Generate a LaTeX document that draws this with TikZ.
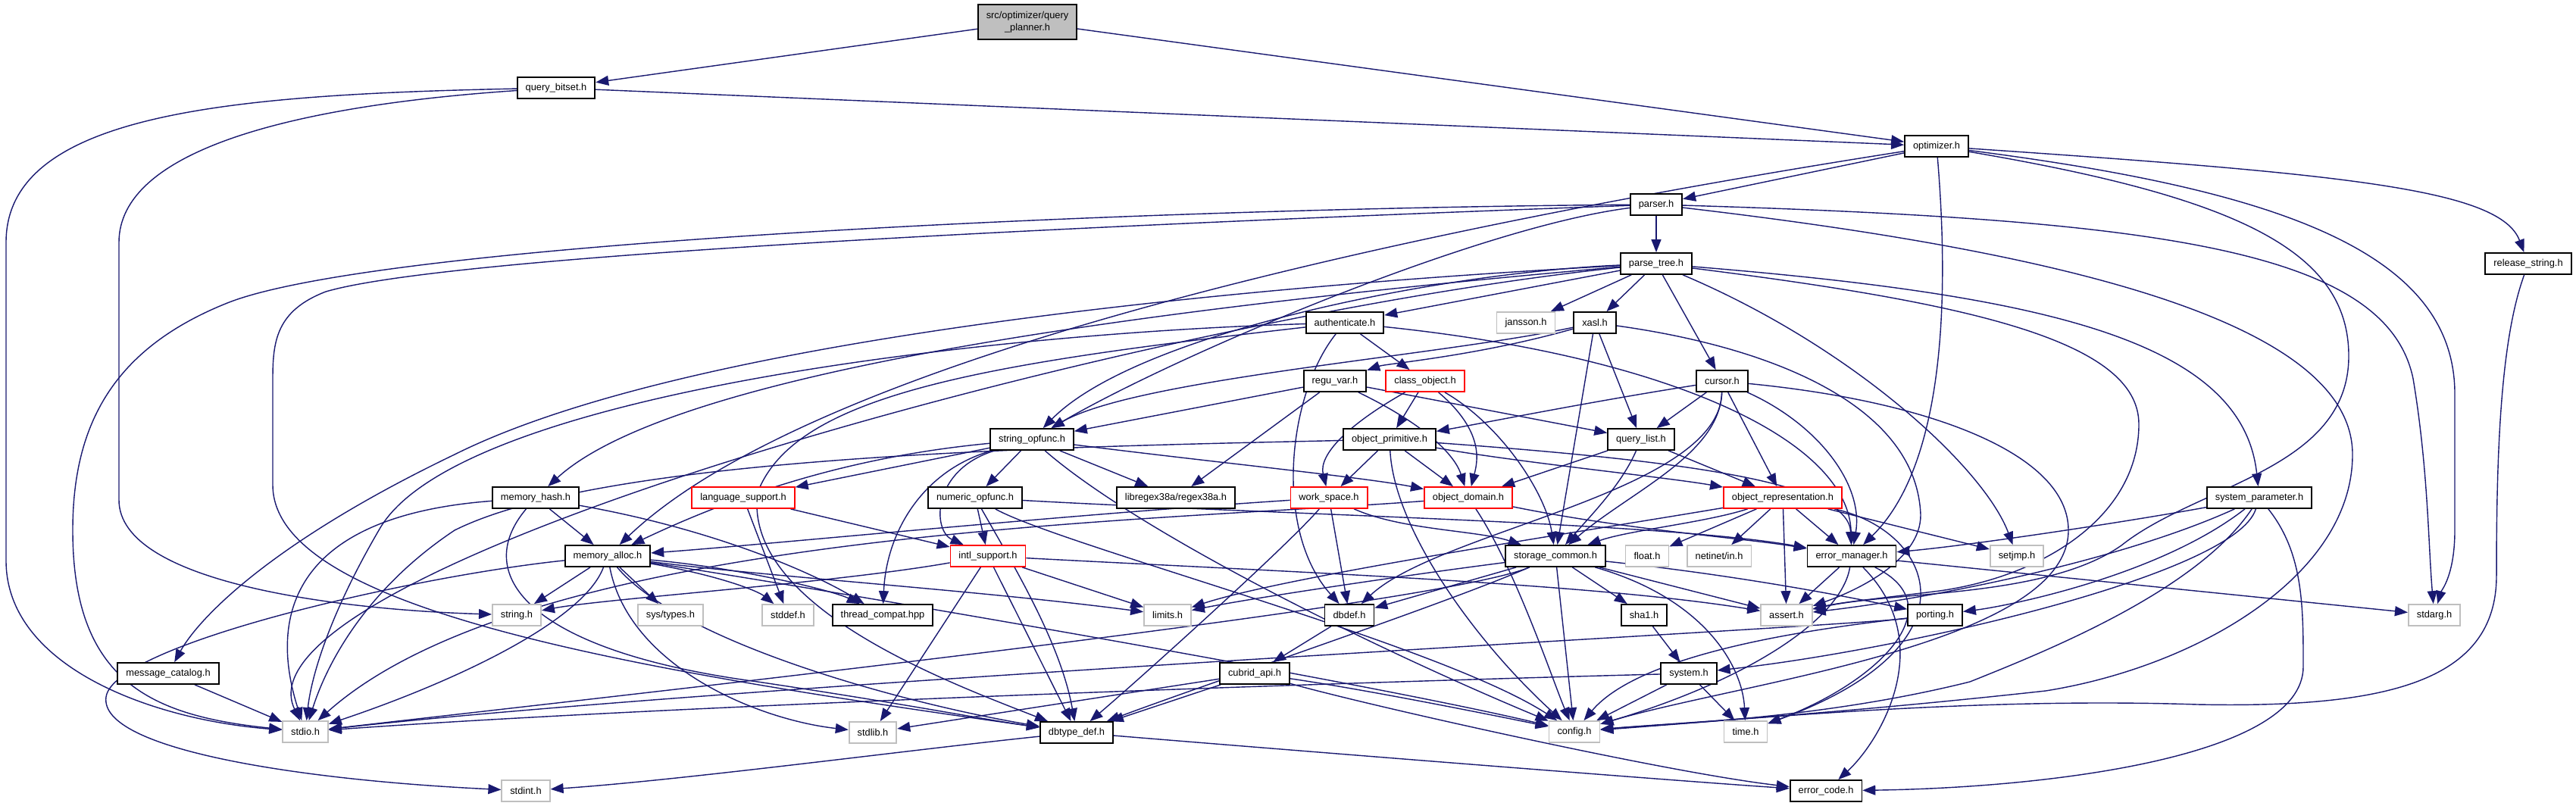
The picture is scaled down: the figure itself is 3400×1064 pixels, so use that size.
\documentclass[tikz,border=0pt]{standalone}
\usepackage{fontspec}
\setmainfont{Liberation Sans}
\usetikzlibrary{arrows.meta}
\definecolor{edgeblue}{HTML}{191970}
\definecolor{extgray}{HTML}{BFBFBF}
\pgfdeclarelayer{edges}
\pgfsetlayers{edges,main}

\begin{document}
\begin{tikzpicture}[
    x=0.01cm, y=-0.01cm,
    every node/.style={font=\fontsize{3.65}{4.6}\selectfont},
    filebox/.style={
        draw=black,
        line width=0.5pt,
        fill=white,
        inner xsep=1.1mm,
        inner ysep=0pt,
        minimum height=2.8mm
    },
    redbox/.style={filebox, draw=red},
    sysbox/.style={filebox, draw=extgray},
    rootbox/.style={filebox, fill=extgray, align=center, minimum height=4.6mm},
    dep/.style={draw=edgeblue, line width=0.4pt, -{Triangle[length=1.7mm,width=1.3mm]}}
]

\useasboundingbox (0,0) rectangle (3400,1064);

\node[rootbox] (root) at (1356,29) {src/optimizer/query\\\_planner.h};
\node[filebox] (qbitset) at (734,116) {query\_bitset.h};
\node[filebox] (optimizer) at (2556,193) {optimizer.h};
\node[filebox] (parser) at (2186,270) {parser.h};
\node[filebox] (parsetree) at (2186,348) {parse\_tree.h};
\node[filebox] (releasestr) at (3337,348) {release\_string.h};
\node[filebox] (authenticate) at (1775,426) {authenticate.h};
\node[sysbox] (jansson) at (2014,426) {jansson.h};
\node[filebox] (xasl) at (2105,426) {xasl.h};
\node[filebox] (reguvar) at (1762,503) {regu\_var.h};
\node[redbox] (classobj) at (1881,503) {class\_object.h};
\node[filebox] (cursor) at (2273,503) {cursor.h};
\node[filebox] (stropfunc) at (1362,580) {string\_opfunc.h};
\node[filebox] (objprim) at (1834,580) {object\_primitive.h};
\node[filebox] (querylist) at (2166,580) {query\_list.h};
\node[filebox] (memhash) at (707,657) {memory\_hash.h};
\node[redbox] (langsupport) at (981,657) {language\_support.h};
\node[filebox] (numopfunc) at (1287,657) {numeric\_opfunc.h};
\node[filebox] (libregex) at (1552,657) {libregex38a/regex38a.h};
\node[redbox] (workspace) at (1754,657) {work\_space.h};
\node[redbox] (objdomain) at (1938,657) {object\_domain.h};
\node[redbox] (objrepr) at (2353,657) {object\_representation.h};
\node[filebox] (sysparam) at (2982,657) {system\_parameter.h};
\node[filebox] (memalloc) at (802,734) {memory\_alloc.h};
\node[redbox] (intlsupport) at (1304,734) {intl\_support.h};
\node[filebox] (storagecommon) at (2053,734) {storage\_common.h};
\node[sysbox] (floath) at (2174,734) {float.h};
\node[sysbox] (netinet) at (2269,734) {netinet/in.h};
\node[filebox] (errmgr) at (2444,734) {error\_manager.h};
\node[sysbox] (setjmp) at (2662,734) {setjmp.h};
\node[sysbox] (stringh) at (682,812) {string.h};
\node[sysbox] (systypes) at (885,812) {sys/types.h};
\node[sysbox] (stddefh) at (1040,812) {stddef.h};
\node[filebox] (threadcompat) at (1165,812) {thread\_compat.hpp};
\node[sysbox] (limitsh) at (1541,812) {limits.h};
\node[filebox] (dbdef) at (1781,812) {dbdef.h};
\node[filebox] (sha1) at (2170,812) {sha1.h};
\node[sysbox] (asserth) at (2358,812) {assert.h};
\node[filebox] (porting) at (2554,812) {porting.h};
\node[sysbox] (stdargh) at (3213,812) {stdarg.h};
\node[filebox] (msgcatalog) at (222,889) {message\_catalog.h};
\node[filebox] (cubridapi) at (1656,889) {cubrid\_api.h};
\node[filebox] (systemh) at (2229,889) {system.h};
\node[sysbox] (stdioh) at (403,966) {stdio.h};
\node[sysbox] (stdlibh) at (1152,967) {stdlib.h};
\node[filebox] (dbtypedef) at (1421,967) {dbtype\_def.h};
\node[sysbox] (configh) at (2078,966) {config.h};
\node[sysbox] (timeh) at (2304,966) {time.h};
\node[sysbox] (stdinth) at (694,1044) {stdint.h};
\node[filebox] (errcode) at (2410,1044) {error\_code.h};

\begin{pgfonlayer}{edges}
\draw[dep] (root) -- (qbitset);
\draw[dep] (root) -- (optimizer);

\draw[dep] (qbitset) -- (optimizer);
\draw[dep] (qbitset) .. controls (300,125) and (8,150) .. (8,320) -- (8,740) .. controls (8,880) and (200,950) .. (stdioh);
\draw[dep] (qbitset) .. controls (380,140) and (157,200) .. (157,320) -- (157,660) .. controls (157,770) and (450,805) .. (stringh);

\draw[dep] (optimizer) -- (parser);
\draw[dep] (optimizer) .. controls (3100,230) and (3300,250) .. (releasestr);
\draw[dep] (optimizer) .. controls (2575,420) and (2560,620) .. (errmgr);
\draw[dep] (optimizer) .. controls (3000,250) and (3240,330) .. (3240,520) -- (3240,700) .. controls (3240,760) and (3222,780) .. (stdargh);
\draw[dep] (optimizer) .. controls (2950,260) and (3100,330) .. (3100,470) .. controls (3100,620) and (2900,640) .. (2800,720) .. controls (2700,790) and (2500,780) .. (asserth);
\draw[dep] (optimizer) .. controls (2000,280) and (1100,450) .. (memalloc);

\draw[dep] (parser) -- (parsetree);
\draw[dep] (parser) .. controls (1500,275) and (500,320) .. (300,400) .. controls (150,460) and (96,560) .. (96,700) .. controls (96,900) and (200,945) .. (stdioh);
\draw[dep] (parser) .. controls (1500,295) and (600,335) .. (430,385) .. controls (365,410) and (360,450) .. (360,500) -- (360,640) .. controls (360,800) and (800,880) .. (dbtypedef);
\draw[dep] (parser) .. controls (1950,300) and (1550,470) .. (stropfunc);
\draw[dep] (parser) .. controls (2850,290) and (3150,330) .. (3185,500) .. controls (3205,620) and (3205,720) .. (stdargh);
\draw[dep] (parser) .. controls (2700,330) and (3105,420) .. (3105,600) .. controls (3105,760) and (2900,880) .. (2700,912) .. controls (2400,945) and (2200,955) .. (configh);

\draw[dep] (releasestr) .. controls (3300,450) and (3295,600) .. (3295,760) .. controls (3295,900) and (3150,935) .. (2900,930) .. controls (2600,920) and (2300,950) .. (configh);

\draw[dep] (parsetree) -- (authenticate);
\draw[dep] (parsetree) -- (jansson);
\draw[dep] (parsetree) -- (xasl);
\draw[dep] (parsetree) -- (cursor);
\draw[dep] (parsetree) .. controls (2700,390) and (2960,450) .. (sysparam);
\draw[dep] (parsetree) .. controls (2450,460) and (2620,620) .. (setjmp);
\draw[dep] (parsetree) .. controls (2600,400) and (2823,450) .. (2823,560) .. controls (2823,680) and (2700,760) .. (2560,780) .. controls (2480,790) and (2430,795) .. (asserth);
\draw[dep] (parsetree) .. controls (1900,360) and (1500,440) .. (stropfunc);
\draw[dep] (parsetree) .. controls (1600,400) and (900,480) .. (memhash);
\draw[dep] (parsetree) .. controls (1600,380) and (900,450) .. (600,600) .. controls (350,720) and (260,820) .. (msgcatalog);
\draw[dep] (parsetree) .. controls (1500,420) and (300,750) .. (stdioh);

\draw[dep] (authenticate) -- (classobj);
\draw[dep] (authenticate) .. controls (1700,520) and (1680,700) .. (dbdef);
\draw[dep] (authenticate) .. controls (2200,470) and (2440,580) .. (errmgr);
\draw[dep] (authenticate) .. controls (1300,440) and (600,520) .. (500,700) .. controls (430,820) and (410,900) .. (stdioh);
\draw[dep] (authenticate) .. controls (1300,480) and (1050,520) .. (1000,650) .. controls (980,800) and (1250,900) .. (dbtypedef);

\draw[dep] (xasl) .. controls (1950,470) and (1830,480) .. (reguvar);
\draw[dep] (xasl) .. controls (1900,470) and (1500,500) .. (stropfunc);
\draw[dep] (xasl) -- (querylist);
\draw[dep] (xasl) -- (storagecommon);
\draw[dep] (xasl) .. controls (2350,460) and (2530,540) .. (2535,680) .. controls (2535,740) and (2450,780) .. (asserth);

\draw[dep] (reguvar) -- (stropfunc);
\draw[dep] (reguvar) -- (libregex);
\draw[dep] (reguvar) .. controls (1880,560) and (1920,600) .. (objdomain);
\draw[dep] (reguvar) -- (querylist);

\draw[dep] (classobj) -- (objprim);
\draw[dep] (classobj) .. controls (1780,560) and (1740,600) .. (workspace);
\draw[dep] (classobj) .. controls (1960,570) and (1950,610) .. (objdomain);
\draw[dep] (classobj) .. controls (1980,560) and (2040,650) .. (storagecommon);

\draw[dep] (cursor) .. controls (2100,530) and (1950,560) .. (objprim);
\draw[dep] (cursor) -- (querylist);
\draw[dep] (cursor) -- (objrepr);
\draw[dep] (cursor) .. controls (2270,600) and (2150,650) .. (storagecommon);
\draw[dep] (cursor) .. controls (2270,650) and (1900,700) .. (dbdef);
\draw[dep] (cursor) .. controls (2400,560) and (2460,640) .. (errmgr);
\draw[dep] (cursor) .. controls (2550,530) and (2730,600) .. (2730,700) .. controls (2730,850) and (2300,900) .. (configh);

\draw[dep] (stropfunc) -- (langsupport);
\draw[dep] (stropfunc) -- (numopfunc);
\draw[dep] (stropfunc) -- (libregex);
\draw[dep] (stropfunc) .. controls (1230,620) and (1230,700) .. (intlsupport);
\draw[dep] (stropfunc) .. controls (1600,610) and (1800,630) .. (objdomain);
\draw[dep] (stropfunc) .. controls (1220,620) and (1170,700) .. (threadcompat);
\draw[dep] (stropfunc) .. controls (1150,600) and (1000,640) .. (memalloc);
\draw[dep] (stropfunc) .. controls (1500,700) and (1800,850) .. (configh);

\draw[dep] (objprim) -- (workspace);
\draw[dep] (objprim) -- (objdomain);
\draw[dep] (objprim) .. controls (2000,610) and (2200,630) .. (objrepr);
\draw[dep] (objprim) .. controls (2250,610) and (2440,640) .. (errmgr);
\draw[dep] (objprim) .. controls (1840,700) and (1950,850) .. (configh);
\draw[dep] (objprim) .. controls (1400,590) and (800,600) .. (600,700) .. controls (480,780) and (430,880) .. (stdioh);

\draw[dep] (querylist) -- (objdomain);
\draw[dep] (querylist) -- (objrepr);
\draw[dep] (querylist) .. controls (2140,640) and (2100,680) .. (storagecommon);

\draw[dep] (memhash) -- (memalloc);
\draw[dep] (memhash) .. controls (950,700) and (1080,760) .. (threadcompat);
\draw[dep] (memhash) .. controls (400,680) and (350,800) .. (stdioh);
\draw[dep] (memhash) .. controls (620,760) and (700,860) .. (1000,900) .. controls (1200,930) and (1300,950) .. (dbtypedef);

\draw[dep] (langsupport) -- (intlsupport);
\draw[dep] (langsupport) -- (stddefh);

\draw[dep] (numopfunc) -- (intlsupport);
\draw[dep] (numopfunc) .. controls (1340,750) and (1400,850) .. (dbtypedef);
\draw[dep] (numopfunc) .. controls (1400,720) and (1900,850) .. (configh);
\draw[dep] (numopfunc) .. controls (1700,680) and (2200,690) .. (errmgr);

\draw[dep] (workspace) .. controls (1400,680) and (1000,720) .. (memalloc);
\draw[dep] (workspace) .. controls (1850,700) and (1950,700) .. (storagecommon);
\draw[dep] (workspace) -- (dbdef);
\draw[dep] (workspace) .. controls (1700,720) and (1500,900) .. (dbtypedef);

\draw[dep] (objdomain) .. controls (2000,750) and (2050,900) .. (configh);
\draw[dep] (objdomain) .. controls (2150,700) and (2300,710) .. (errmgr);
\draw[dep] (objdomain) .. controls (1500,690) and (700,700) .. (stdioh);

\draw[dep] (objrepr) .. controls (2250,690) and (2150,700) .. (storagecommon);
\draw[dep] (objrepr) -- (floath);
\draw[dep] (objrepr) -- (netinet);
\draw[dep] (objrepr) -- (errmgr);
\draw[dep] (objrepr) -- (setjmp);
\draw[dep] (objrepr) -- (asserth);
\draw[dep] (objrepr) .. controls (2100,700) and (1700,760) .. (limitsh);
\draw[dep] (objrepr) .. controls (2550,700) and (2620,850) .. (timeh);

\draw[dep] (sysparam) .. controls (2800,690) and (2600,720) .. (errmgr);
\draw[dep] (sysparam) .. controls (2850,760) and (2650,800) .. (porting);
\draw[dep] (sysparam) .. controls (2900,780) and (2700,860) .. (2600,900) .. controls (2400,950) and (2200,955) .. (configh);
\draw[dep] (sysparam) .. controls (3040,730) and (3040,800) .. (3040,880) .. controls (3040,1000) and (2700,1040) .. (errcode);
\draw[dep] (sysparam) .. controls (2800,740) and (2550,790) .. (asserth);
\draw[dep] (sysparam) .. controls (2950,760) and (2500,860) .. (systemh);

\draw[dep] (memalloc) -- (stringh);
\draw[dep] (memalloc) -- (systypes);
\draw[dep] (memalloc) .. controls (950,760) and (1000,780) .. (stddefh);
\draw[dep] (memalloc) .. controls (980,750) and (1100,780) .. (threadcompat);
\draw[dep] (memalloc) .. controls (770,820) and (600,900) .. (stdioh);
\draw[dep] (memalloc) .. controls (830,880) and (1000,950) .. (stdlibh);
\draw[dep] (memalloc) .. controls (900,850) and (1200,930) .. (dbtypedef);
\draw[dep] (memalloc) .. controls (1000,760) and (1300,780) .. (limitsh);
\draw[dep] (memalloc) .. controls (550,760) and (150,850) .. (140,920) .. controls (130,990) and (400,1030) .. (stdinth);
\draw[dep] (memalloc) .. controls (1100,780) and (1800,900) .. (configh);

\draw[dep] (intlsupport) .. controls (1100,770) and (800,790) .. (stringh);
\draw[dep] (intlsupport) -- (stdlibh);
\draw[dep] (intlsupport) -- (dbtypedef);
\draw[dep] (intlsupport) -- (limitsh);
\draw[dep] (intlsupport) .. controls (1700,755) and (2100,770) .. (asserth);

\draw[dep] (storagecommon) .. controls (1850,760) and (1650,790) .. (limitsh);
\draw[dep] (storagecommon) -- (dbdef);
\draw[dep] (storagecommon) -- (sha1);
\draw[dep] (storagecommon) -- (asserth);
\draw[dep] (storagecommon) .. controls (2300,760) and (2450,790) .. (porting);
\draw[dep] (storagecommon) -- (configh);
\draw[dep] (storagecommon) .. controls (2250,790) and (2300,880) .. (timeh);
\draw[dep] (storagecommon) .. controls (1900,800) and (800,920) .. (stdioh);
\draw[dep] (storagecommon) .. controls (1900,800) and (1600,900) .. (dbtypedef);

\draw[dep] (errmgr) -- (asserth);
\draw[dep] (errmgr) -- (stdargh);
\draw[dep] (errmgr) .. controls (2430,820) and (2300,900) .. (configh);
\draw[dep] (errmgr) .. controls (2580,800) and (2480,900) .. (timeh);
\draw[dep] (errmgr) .. controls (2560,850) and (2480,980) .. (errcode);

\draw[dep] (dbdef) -- (cubridapi);
\draw[dep] (sha1) -- (systemh);

\draw[dep] (porting) .. controls (2300,840) and (2150,880) .. (configh);
\draw[dep] (porting) .. controls (2400,830) and (1000,900) .. (stdioh);

\draw[dep] (cubridapi) -- (stdlibh);
\draw[dep] (cubridapi) -- (dbtypedef);
\draw[dep] (cubridapi) .. controls (1800,910) and (1950,940) .. (configh);
\draw[dep] (cubridapi) .. controls (1800,930) and (2200,1020) .. (errcode);

\draw[dep] (systemh) -- (configh);
\draw[dep] (systemh) -- (timeh);
\draw[dep] (systemh) .. controls (1800,900) and (900,930) .. (stdioh);

\draw[dep] (dbtypedef) .. controls (1200,990) and (900,1030) .. (stdinth);
\draw[dep] (dbtypedef) .. controls (1700,990) and (2200,1030) .. (errcode);

\draw[dep] (msgcatalog) -- (stdioh);
\end{pgfonlayer}

\end{tikzpicture}
\end{document}
